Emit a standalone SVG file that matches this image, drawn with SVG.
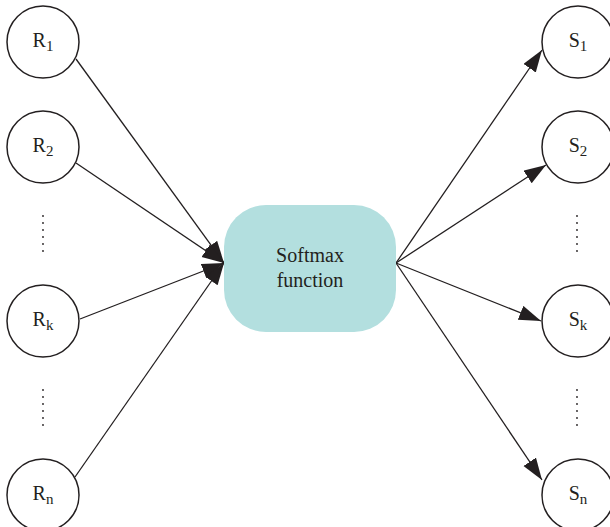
<svg xmlns="http://www.w3.org/2000/svg" width="610" height="527" viewBox="0 0 610 527">
  <defs>
    <style>
      .node { fill: #ffffff; stroke: #231f20; stroke-width: 1.5; }
      .lbl { font-family: "Liberation Serif", "DejaVu Serif", serif; font-size: 20px; fill: #231f20; text-anchor: middle; }
      .sub { font-size: 15px; }
      .edge { stroke: #231f20; stroke-width: 1.3; fill: none; marker-end: url(#head); }
      .dot { fill: #231f20; }
      .box { fill: #b3dfdf; }
    </style>
    <marker id="head" markerUnits="userSpaceOnUse" markerWidth="24" markerHeight="16" refX="22" refY="7.5" orient="auto">
      <path d="M0,0 L22,7.5 L0,15 Z" fill="#231f20"/>
    </marker>
    <g id="vdots">
      <circle class="dot" cx="0" cy="0" r="0.9"/>
      <circle class="dot" cx="0" cy="7" r="0.9"/>
      <circle class="dot" cx="0" cy="14" r="0.9"/>
      <circle class="dot" cx="0" cy="21" r="0.9"/>
      <circle class="dot" cx="0" cy="28" r="0.9"/>
      <circle class="dot" cx="0" cy="35" r="0.9"/>
    </g>
  </defs>

  <rect width="610" height="527" fill="#ffffff"/>

  <!-- connectors -->
  <g id="connectors">
    <line class="edge" x1="76" y1="59" x2="224" y2="263"/>
    <line class="edge" x1="76" y1="163" x2="224" y2="263"/>
    <line class="edge" x1="80" y1="319" x2="224" y2="263"/>
    <line class="edge" x1="75" y1="477" x2="224" y2="263"/>
    <line class="edge" x1="396" y1="263" x2="542" y2="50"/>
    <line class="edge" x1="396" y1="263" x2="546" y2="165"/>
    <line class="edge" x1="396" y1="263" x2="541" y2="321"/>
    <line class="edge" x1="396" y1="263" x2="542" y2="480"/>
  </g>

  <!-- central block -->
  <g id="softmax">
    <rect class="box" x="224" y="205" width="172" height="127" rx="42" ry="42"/>
    <text class="lbl" x="310" y="262">Softmax</text>
    <text class="lbl" x="310" y="287">function</text>
  </g>

  <!-- inputs -->
  <g id="R1">
    <circle class="node" cx="43" cy="42" r="36"/>
    <text class="lbl" x="43" y="47">R<tspan class="sub" dy="4">1</tspan></text>
  </g>
  <g id="R2">
    <circle class="node" cx="43" cy="147" r="36"/>
    <text class="lbl" x="43" y="152">R<tspan class="sub" dy="4">2</tspan></text>
  </g>
  <g id="Rdots1"><use href="#vdots" x="43" y="216"/></g>
  <g id="Rk">
    <circle class="node" cx="43" cy="321" r="36"/>
    <text class="lbl" x="43" y="326">R<tspan class="sub" dy="4">k</tspan></text>
  </g>
  <g id="Rdots2"><use href="#vdots" x="43" y="390"/></g>
  <g id="Rn">
    <circle class="node" cx="43" cy="495" r="36"/>
    <text class="lbl" x="43" y="500">R<tspan class="sub" dy="4">n</tspan></text>
  </g>

  <!-- outputs -->
  <g id="S1">
    <circle class="node" cx="578" cy="42" r="36"/>
    <text class="lbl" x="578" y="47">S<tspan class="sub" dy="4">1</tspan></text>
  </g>
  <g id="S2">
    <circle class="node" cx="578" cy="147" r="36"/>
    <text class="lbl" x="578" y="152">S<tspan class="sub" dy="4">2</tspan></text>
  </g>
  <g id="Sdots1"><use href="#vdots" x="577" y="216"/></g>
  <g id="Sk">
    <circle class="node" cx="578" cy="321" r="36"/>
    <text class="lbl" x="578" y="326">S<tspan class="sub" dy="4">k</tspan></text>
  </g>
  <g id="Sdots2"><use href="#vdots" x="577" y="390"/></g>
  <g id="Sn">
    <circle class="node" cx="578" cy="495" r="36"/>
    <text class="lbl" x="578" y="500">S<tspan class="sub" dy="4">n</tspan></text>
  </g>
</svg>
